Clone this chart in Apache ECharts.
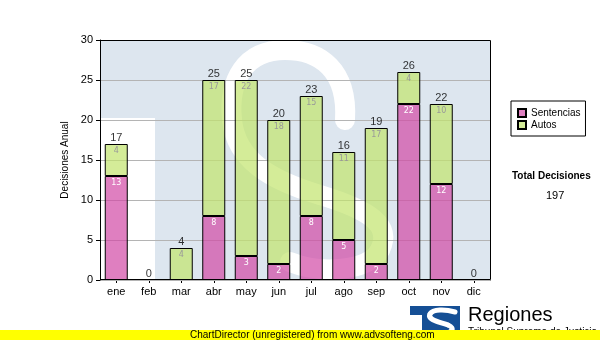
<!DOCTYPE html>
<html>
<head>
<meta charset="utf-8">
<script src="https://cdn.jsdelivr.net/npm/echarts@6/dist/echarts.min.js"></script>
<style>
  html, body { margin: 0; padding: 0; background: #fff; }
  #chart { width: 600px; height: 340px; }
</style>
</head>
<body>
<div id="chart"></div>
<script>
// Monthly decisions, stacked by type
const categories = ['ene', 'feb', 'mar', 'abr', 'may', 'jun', 'jul', 'ago', 'sep', 'oct', 'nov', 'dic'];
const sentencias = [13, 0, 0, 8, 3, 2, 8, 5, 2, 22, 12, 0];
const autos = [4, 0, 4, 17, 22, 18, 15, 11, 17, 4, 10, 0];
const totals = [17, 0, 4, 25, 25, 20, 23, 16, 19, 26, 22, 0];
const yMin = 0, yMax = 30, yStep = 5;
const totalDecisiones = 197;

const FONT = 'Liberation Sans, Arial, sans-serif';
const WM = '#dde6ef';

const chart = echarts.init(document.getElementById('chart'), null, { renderer: 'canvas' });

const hideZero = p => (p.value ? String(p.value) : '');
// empty segments are left out so no zero-height outline is drawn
const segments = arr => arr.map(v => (v === 0 ? '-' : v));

// cubic segment helper for the emblem strokes
function curve(z, stroke, w, p) {
  return {
    type: 'bezierCurve', z: z, silent: true,
    shape: { x1: p[0], y1: p[1], cpx1: p[2], cpy1: p[3], cpx2: p[4], cpy2: p[5], x2: p[6], y2: p[7] },
    style: { fill: null, stroke: stroke, lineWidth: w, lineCap: 'round' }
  };
}

const emblemStroke = [
  [345, 120, 348, 70, 320, 50, 285, 50],
  [285, 50, 245, 50, 228, 80, 232, 120],
  [232, 120, 236, 160, 270, 180, 320, 195],
  [320, 195, 370, 210, 392, 225, 380, 250],
  [380, 250, 368, 272, 320, 274, 290, 262]
];
const footerStroke = [
  [455, 312, 445, 309, 433, 309, 430, 314],
  [430, 314, 427, 320, 440, 322, 448, 325],
  [448, 325, 456, 328, 452, 334, 440, 334]
];

chart.setOption({
  animation: false,
  backgroundColor: '#fff',
  grid: { left: 100, top: 40, width: 390, height: 240, show: false },
  legend: {
    orient: 'vertical', left: 511, top: 101,
    data: ['Sentencias', 'Autos'],
    icon: 'rect', itemWidth: 8, itemHeight: 8, itemGap: 0,
    padding: [6, 5, 5, 6],
    borderColor: '#000', borderWidth: 1, backgroundColor: '#fff',
    textStyle: { fontFamily: FONT, fontSize: 10, color: '#000', lineHeight: 12 }
  },
  xAxis: {
    type: 'category', data: categories, boundaryGap: true,
    axisLine: { lineStyle: { color: '#000', width: 1 } },
    axisTick: { show: true, alignWithLabel: true, length: 3, lineStyle: { color: '#000' } },
    axisLabel: { color: '#000', fontFamily: FONT, fontSize: 11, margin: 6 },
    splitLine: { show: false }
  },
  yAxis: {
    type: 'value', min: yMin, max: yMax, interval: yStep, z: 1,
    name: 'Decisiones Anual', nameLocation: 'middle', nameRotate: 90, nameGap: 27,
    nameTextStyle: { color: '#000', fontFamily: FONT, fontSize: 10 },
    axisLine: { show: true, lineStyle: { color: '#000', width: 1 } },
    axisTick: { show: true, length: 4, lineStyle: { color: '#000' } },
    axisLabel: { color: '#000', fontFamily: FONT, fontSize: 11, margin: 7 },
    splitLine: { show: true, lineStyle: { color: '#b4b4b4', width: 1 } }
  },
  series: [
    {
      name: 'Sentencias', type: 'bar', stack: 'dec', data: segments(sentencias), barWidth: 23, z: 2,
      itemStyle: { color: 'rgba(210,73,165,0.7)', borderColor: '#000', borderWidth: 1 },
      label: { show: true, position: 'insideTop', distance: 3, color: '#fff', fontFamily: 'DejaVu Sans', fontSize: 8, formatter: hideZero }
    },
    {
      name: 'Autos', type: 'bar', stack: 'dec', data: segments(autos), barWidth: 23, z: 2,
      itemStyle: { color: 'rgba(194,228,108,0.7)', borderColor: '#000', borderWidth: 1 },
      label: { show: true, position: 'insideTop', distance: 3, color: '#999', fontFamily: 'DejaVu Sans', fontSize: 8, formatter: hideZero }
    },
    {
      name: 'Total', type: 'scatter', data: totals, symbolSize: 0, z: 3, silent: true,
      label: { show: true, position: 'top', distance: 1, color: '#000', fontFamily: FONT, fontSize: 11, formatter: p => String(p.value) }
    }
  ],
  graphic: [
    // faded emblem behind the plot
    { type: 'rect', z: -2, silent: true, shape: { x: 100, y: 40, width: 390, height: 240 }, style: { fill: WM } },
    { type: 'rect', z: -1, silent: true, shape: { x: 100, y: 118, width: 55, height: 162 }, style: { fill: '#fff' } }
  ].concat(emblemStroke.map(p => curve(-1, '#fff', 20, p))).concat([
    // plot frame
    { type: 'rect', z: 4, silent: true, shape: { x: 100.5, y: 40.5, width: 390, height: 239 }, style: { fill: null, stroke: '#000', lineWidth: 1 } },
    // side panel totals
    { type: 'text', left: 512, top: 171, style: { text: 'Total Decisiones', font: 'bold 10px Liberation Sans, Arial', fill: '#000' } },
    { type: 'text', left: 546, top: 190, style: { text: String(totalDecisiones), font: '11px Liberation Sans, Arial', fill: '#000' } },
    // footer emblem
    { type: 'rect', silent: true, shape: { x: 410, y: 306, width: 50, height: 30 }, style: { fill: '#154f95' } },
    { type: 'rect', silent: true, shape: { x: 410, y: 315, width: 12, height: 21 }, style: { fill: '#fff' } }
  ]).concat(footerStroke.map(p => curve(1, '#fff', 5, p))).concat([
    { type: 'text', left: 468, top: 305, style: { text: 'Regiones', font: '20px Liberation Sans, Arial', fill: '#000' } },
    { type: 'text', left: 468, top: 327, style: { text: 'Tribunal Supremo de Justicia', font: '10px Liberation Sans, Arial', fill: '#000' } },
    // footer strip
    { type: 'rect', z: 5, silent: true, shape: { x: 0, y: 330, width: 600, height: 10 }, style: { fill: '#ffff00' } },
    { type: 'text', z: 6, left: 190, top: 330, style: { text: 'ChartDirector (unregistered) from www.advsofteng.com', font: '10px Liberation Sans, Arial', fill: '#000' } }
  ])
});
</script>
</body>
</html>
